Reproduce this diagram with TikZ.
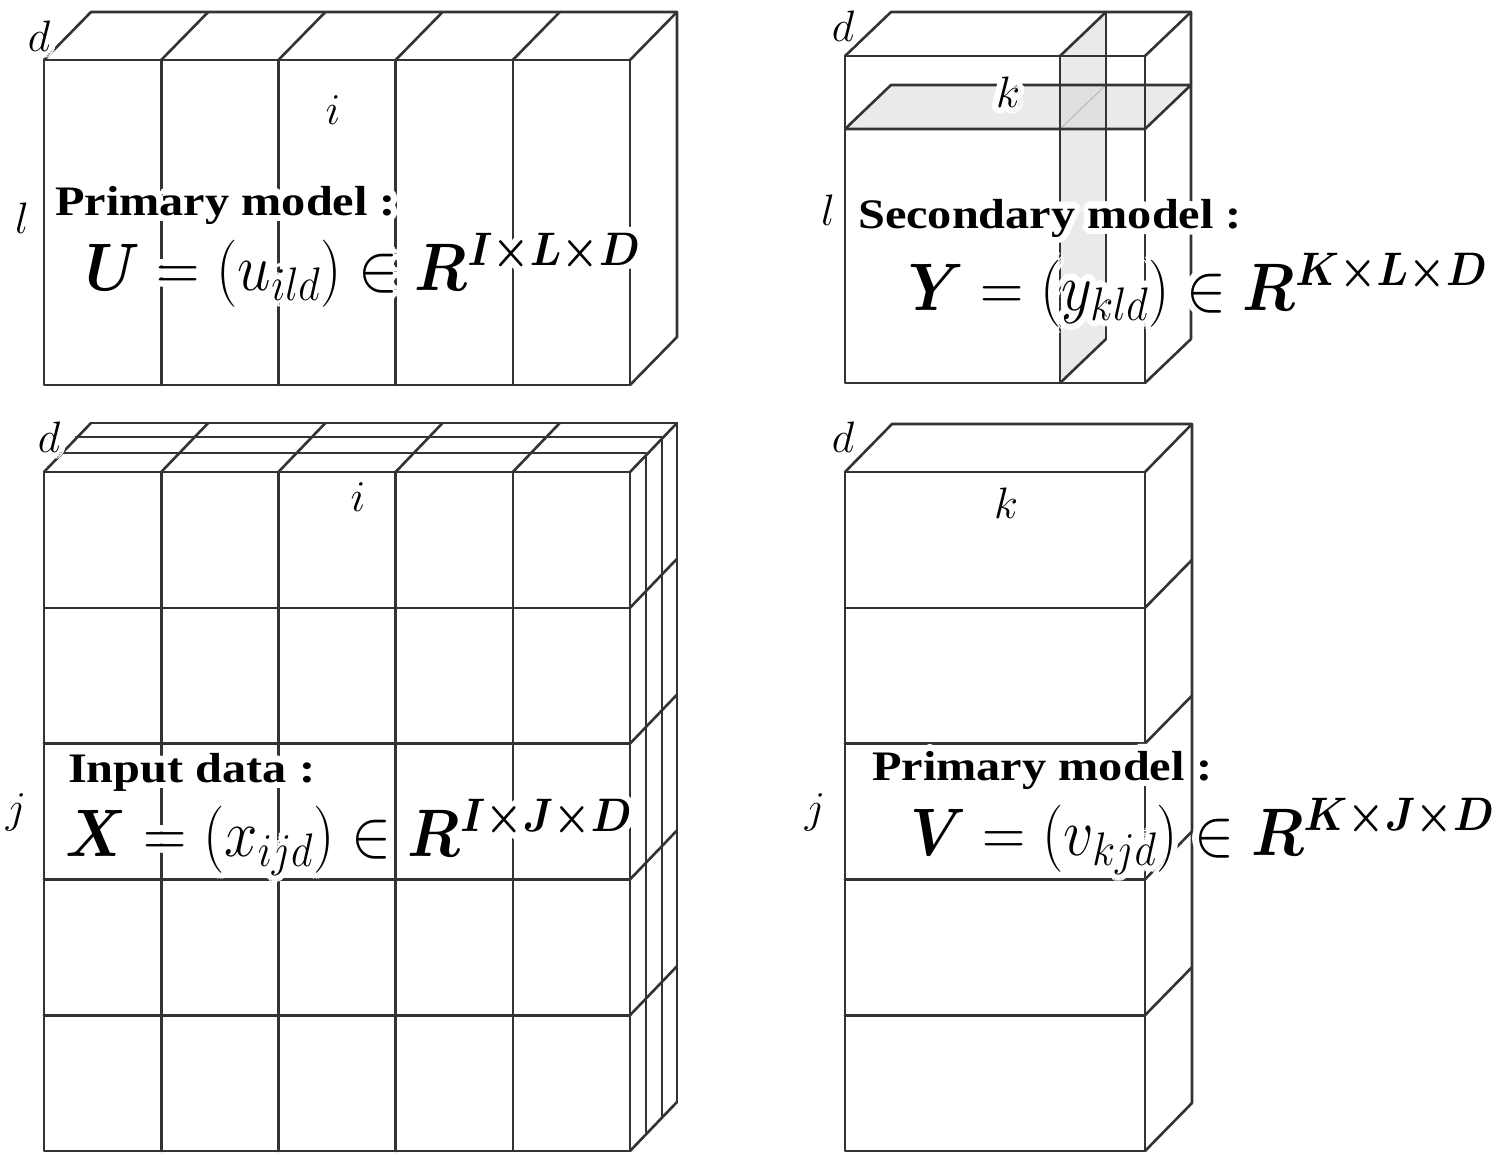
\RequirePackage{fix-cm}
\documentclass[tikz,border=0pt]{standalone}
\usepackage[no-math]{fontspec}
\setmainfont{Liberation Serif}
\usepackage{bm}
\usetikzlibrary{calc}
\newcommand\halonode[4]{%
  \foreach \hang [count=\hc] in {0,22.5,...,337.5}{%
    \node[#2,text=white] (#1h\hc) at ($(#3)+(\hang:6.5)$) {#4};}%
  \node[#2] (#1) at (#3) {#4};}
\begin{document}
\begin{tikzpicture}[x=1pt,y=-1pt,
  edge/.style={line width=2.6pt, draw=black!80, line join=round, line cap=round},
  shd/.style={fill=gray!30, fill opacity=0.55, draw=none},
  lbl/.style={font=\fontsize{44}{48}\selectfont, inner sep=0pt},
  ttl/.style={font=\fontsize{42}{46}\selectfont\bfseries, inner sep=0pt, anchor=base west},
  frm/.style={font=\fontsize{60}{66}\selectfont, inner sep=0pt, anchor=base west}]
\useasboundingbox[fill=white] (0,0) rectangle (1502,1154);

% ---------- top-left block ----------
\draw[edge] (44,60) rectangle (630,385);
\foreach \x in {161.2,278.4,395.6,512.8} \draw[edge] (\x,60) -- (\x,385);
\foreach \x in {44,161.2,278.4,395.6,512.8,630} \draw[edge] (\x,60) -- ++(47,-48);
\draw[edge] (91,12) -- (677,12) -- (677,337) -- (630,385);

% ---------- top-right block ----------
\fill[shd] (845,129) -- (891,85) -- (1191,85) -- (1145,129) -- cycle;
\fill[shd] (1060,56) -- (1106,12) -- (1106,339) -- (1060,383) -- cycle;
\draw[gray!55, line width=1pt] (1060,129) -- (1106,85);
\draw[edge] (845,56) rectangle (1145,383);
\draw[edge] (845,56) -- (891,12) -- (1191,12) -- (1191,339) -- (1145,383);
\draw[edge] (1145,56) -- (1191,12);
\draw[edge] (845,129) -- (1145,129) -- (1191,85) -- (891,85) -- cycle;
\draw[edge] (1060,56) -- (1060,383);
\draw[edge] (1106,12) -- (1106,339);
\draw[edge] (1060,56) -- (1106,12);
\draw[edge] (1060,383) -- (1106,339);

% ---------- bottom-left block ----------
\draw[edge] (44,472) rectangle (630,1151);
\foreach \x in {161.2,278.4,395.6,512.8} \draw[edge] (\x,472) -- (\x,1151);
\foreach \y in {607.8,743.6,879.4,1015.2} \draw[edge] (44,\y) -- (630,\y);
\foreach \ox/\oy in {16/19,32/35,47/49}
  \draw[edge] (44+\ox,472-\oy) -- (630+\ox,472-\oy) -- (630+\ox,1151-\oy);
\foreach \x in {44,161.2,278.4,395.6,512.8,630} \draw[edge] (\x,472) -- ++(47,-49);
\foreach \y in {607.8,743.6,879.4,1015.2,1151} \draw[edge] (630,\y) -- ++(47,-49);

% ---------- bottom-right block ----------
\draw[edge] (845,472) rectangle (1145,1151);
\foreach \y in {607.8,743.6,879.4,1015.2} \draw[edge] (845,\y) -- (1145,\y);
\draw[edge] (845,472) -- (892,424) -- (1192,424) -- (1192,1103);
\foreach \y in {472,607.8,743.6,879.4,1015.2,1151} \draw[edge] (1145,\y) -- ++(47,-48);

% ---------- axis labels ----------
\halonode{tld}{lbl}{39,36}{$d$}
\halonode{tli}{lbl}{333,110}{$i$}
\halonode{tll}{lbl}{22,218}{$l$}
\halonode{trd}{lbl}{843,26}{$d$}
\halonode{trk}{lbl}{1008,92}{$k$}
\halonode{trl}{lbl}{828,210}{$l$}
\halonode{bld}{lbl}{49,437}{$d$}
\halonode{bli}{lbl}{358,497}{$i$}
\halonode{blj}{lbl}{16,812}{$j$}
\halonode{brd}{lbl}{843,437}{$d$}
\halonode{brk}{lbl}{1006,503}{$k$}
\halonode{brj}{lbl}{815,812}{$j$}

% ---------- titles ----------
\halonode{tlt}{ttl}{55,215}{\scalebox{1.15}[1]{Primary model :}}
\halonode{trt}{ttl}{858,228}{\scalebox{1.15}[1]{Secondary model :}}
\halonode{blt}{ttl}{68,782}{\scalebox{1.15}[1]{Input data :}}
\halonode{brt}{ttl}{872,780}{\scalebox{1.15}[1]{Primary model :}}

% ---------- formulas ----------
\halonode{tlf}{frm}{85,290}{\scalebox{1}[1.12]{$\bm{U} = (u_{ild}) \in \bm{R}^{\bm{I\times L\times D}}$}}
\halonode{trf}{frm}{908,310}{\scalebox{1}[1.12]{$\bm{Y} = (y_{kld}) \in \bm{R}^{\bm{K\times L\times D}}$}}
\halonode{blf}{frm}{65,856}{\scalebox{1}[1.12]{$\bm{X} = (x_{ijd}) \in \bm{R}^{\bm{I\times J\times D}}$}}
\halonode{brf}{frm}{910,855}{\scalebox{1}[1.12]{$\bm{V} = (v_{kjd}) \in \bm{R}^{\bm{K\times J\times D}}$}}
\end{tikzpicture}
\end{document}
